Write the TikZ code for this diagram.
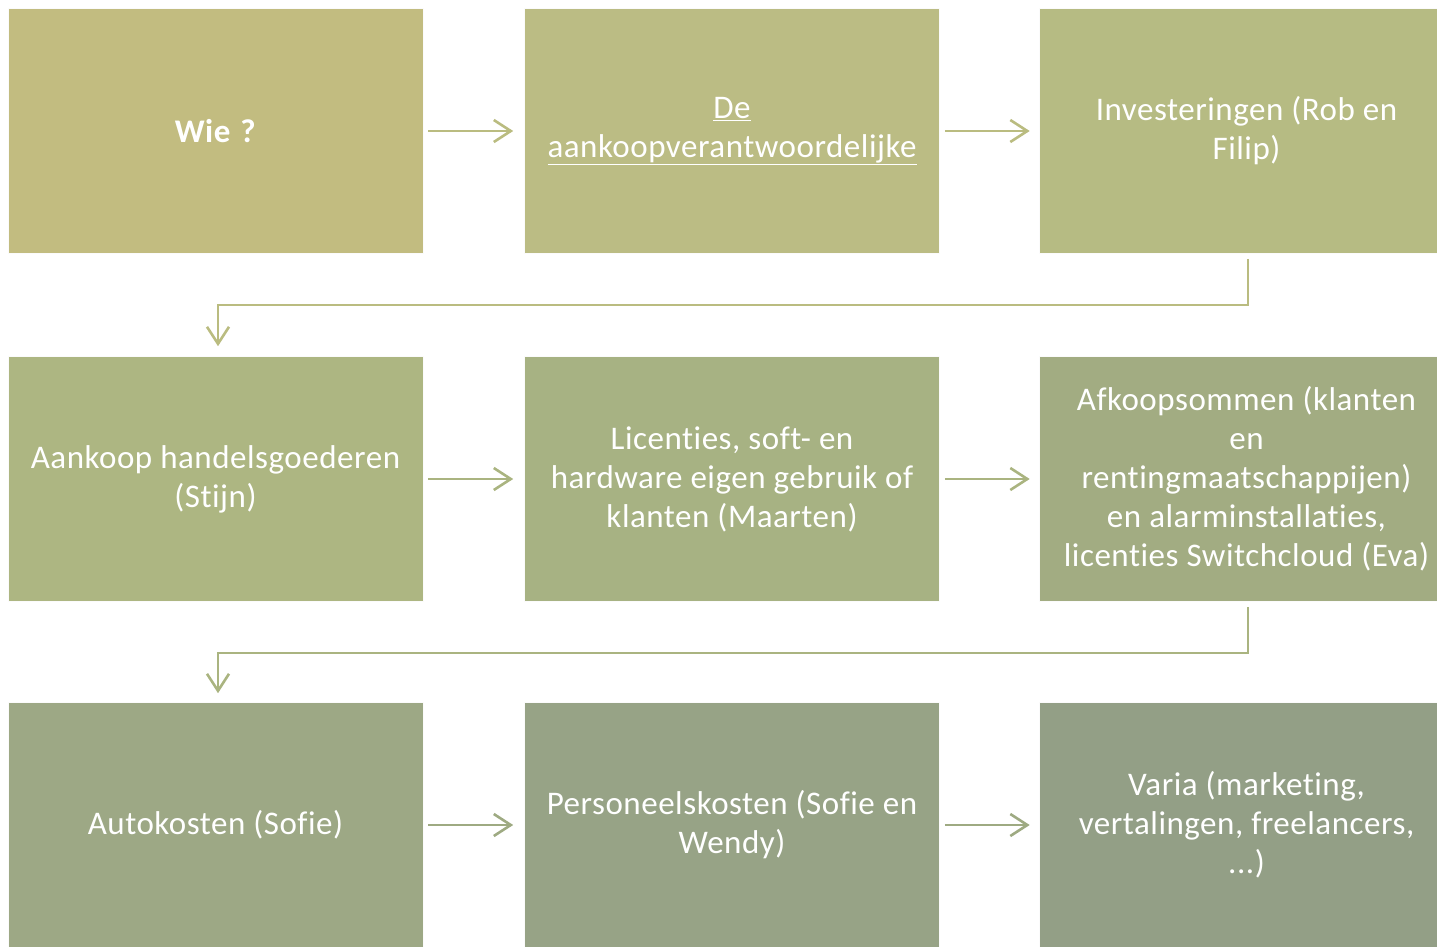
\documentclass[tikz,border=0pt]{standalone}
\usepackage{fontspec}
\setmainfont{Carlito}[Ligatures=NoCommon,LetterSpace=1.6]
\usetikzlibrary{arrows.meta}
\definecolor{cA}{RGB}{194,188,128}
\definecolor{cB}{RGB}{187,188,132}
\definecolor{cC}{RGB}{182,187,131}
\definecolor{cD}{RGB}{173,182,130}
\definecolor{cE}{RGB}{167,178,131}
\definecolor{cF}{RGB}{162,172,130}
\definecolor{cG}{RGB}{157,168,133}
\definecolor{cH}{RGB}{151,163,134}
\definecolor{cI}{RGB}{147,159,134}
\definecolor{lineA}{RGB}{186,188,128}
\definecolor{lineB}{RGB}{170,180,128}
\definecolor{lineC}{RGB}{158,170,130}
\tikzset{
  box/.style={draw=white!85!black!10, line width=0.6pt, minimum width=415pt, minimum height=245pt,
    inner sep=0pt, align=center, text=white,
    font=\fontsize{33}{39}\selectfont},
  conn/.style={line width=2.6pt, -{Straight Barb[length=17pt,width=22pt,line width=2.6pt]}},
}
\begin{document}
\begin{tikzpicture}[x=1pt,y=-1pt]
\useasboundingbox (0,0) rectangle (1437,947);
\clip (0,0) rectangle (1437,947);
\node[box, fill=cA] (a) at (215.5,131) {\textbf{Wie\hspace{10pt}?}};
\node[box, fill=cB] (b) at (732,131) {\underline{De}\\\underline{aankoopverantwoordelijke}};
\node[box, fill=cC] (c) at (1246.5,131) {Investeringen (Rob en\\Filip)};
\node[box, fill=cD] (d) at (215.5,479) {Aankoop handelsgoederen\\(Stijn)};
\node[box, fill=cE] (e) at (732,479) {Licenties, soft- en\\hardware eigen gebruik of\\klanten (Maarten)};
\node[box, fill=cF] (f) at (1246.5,479) {Afkoopsommen (klanten\\en\\rentingmaatschappijen)\\en alarminstallaties,\\licenties Switchcloud (Eva)};
\node[box, fill=cG] (g) at (215.5,825) {Autokosten (Sofie)};
\node[box, fill=cH] (h) at (732,825) {Personeelskosten (Sofie en\\Wendy)};
\node[box, fill=cI] (i) at (1246.5,825) {Varia (marketing,\\vertalingen, freelancers,\\...)};
\draw[conn, lineA] ([xshift=5pt]a.east) -- ([xshift=-11pt]b.west);
\draw[conn, lineA] ([xshift=5pt]b.east) -- ([xshift=-9pt]c.west);
\draw[conn, lineB] ([xshift=5pt]d.east) -- ([xshift=-11pt]e.west);
\draw[conn, lineB] ([xshift=5pt]e.east) -- ([xshift=-9pt]f.west);
\draw[conn, lineC] ([xshift=5pt]g.east) -- ([xshift=-11pt]h.west);
\draw[conn, lineC] ([xshift=5pt]h.east) -- ([xshift=-9pt]i.west);
\coordinate (c1) at (1248,305);
\coordinate (d1) at (218,305);
\draw[conn, lineA]
  ([xshift=1.5pt,yshift=-5pt]c.south) -- (c1) -- (d1) -- ([xshift=2.5pt,yshift=10pt]d.north);
\coordinate (f1) at (1248,653);
\coordinate (g1) at (218,653);
\draw[conn, lineB]
  ([xshift=1.5pt,yshift=-5pt]f.south) -- (f1) -- (g1) -- ([xshift=2.5pt,yshift=9pt]g.north);
\end{tikzpicture}
\end{document}
